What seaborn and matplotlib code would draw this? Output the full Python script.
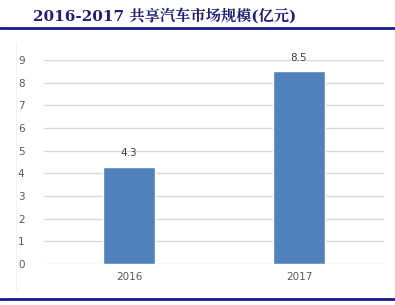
import matplotlib
matplotlib.use("Agg")
import matplotlib.pyplot as plt
import seaborn as sns
import pandas as pd
from matplotlib.lines import Line2D

years = ["2016", "2017"]
values = [4.3, 8.5]
yticks = [0, 1, 2, 3, 4, 5, 6, 7, 8, 9]
title = "2016-2017 共享汽车市场规模(亿元)"

sns.set_style("white")
plt.rcParams['font.family'] = ['DejaVu Sans', 'Noto Sans CJK SC']

df = pd.DataFrame({"year": years, "value": values})

fig = plt.figure(figsize=(3.95, 3.05), dpi=100)
ax = fig.add_axes([44/395, 41/305, 340/395, 204/305])
sns.barplot(data=df, x="year", y="value", color="#4f81bd", saturation=1,
            width=0.31, ax=ax, zorder=3)
ax.set_ylim(0, 9)
ax.set_xlim(-0.5, 1.5)
ax.set_yticks(yticks)
ax.yaxis.grid(True, color="#d9d9d9", linewidth=1, zorder=0)
ax.set_axisbelow(True)
for s in ax.spines.values():
    s.set_visible(False)
ax.set_xlabel("")
ax.set_ylabel("")
ax.tick_params(axis="both", length=0, labelsize=7.5, labelcolor="#595959")
ax.tick_params(axis="y", pad=14)
ax.tick_params(axis="x", pad=6)
for c in ax.containers:
    ax.bar_label(c, labels=[f"{v}" for v in values], padding=6,
                 fontsize=7.5, color="#404040")

# faint left edge of chart frame
fig.add_artist(Line2D([15.5/395, 15.5/395], [1 - 42/305, 1 - 290/305], transform=fig.transFigure,
                      color="#f2f2f2", linewidth=0.8))

fig.text(33/395, 1 - 16/305, title, fontsize=11, fontweight="bold",
         color="#1f1f7a", va="center", ha="left",
         family=['DejaVu Serif', 'Noto Serif CJK SC', 'Noto Sans CJK SC'])
fig.add_artist(Line2D([0, 1], [1 - 27.5/305, 1 - 27.5/305], transform=fig.transFigure,
                      color="#1a1a8c", linewidth=2))
fig.add_artist(Line2D([0, 1], [1 - 298.5/305, 1 - 298.5/305], transform=fig.transFigure,
                      color="#1a1a8c", linewidth=2))

fig.savefig("out.png", dpi=100)
